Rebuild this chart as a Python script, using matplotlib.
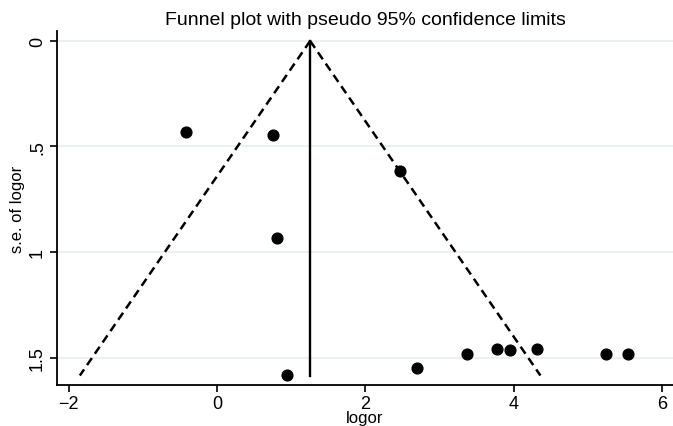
import numpy as np
import matplotlib
matplotlib.use("Agg")
import matplotlib.pyplot as plt

plt.rcParams['font.family'] = ['Liberation Sans', 'DejaVu Sans']

# study estimates
logor = [-0.42, 0.75, 0.805, 2.47, 0.94, 2.70, 3.37, 3.78, 3.95, 4.31, 5.25, 5.54]
se_logor = [0.43, 0.445, 0.934, 0.617, 1.583, 1.551, 1.483, 1.458, 1.464, 1.461, 1.485, 1.482]
pooled = 1.255
se_max = 1.585

xticks = [-2, 0, 2, 4, 6]
yticks = [0, 0.5, 1, 1.5]
ytick_labels = ['0', '.5', '1', '1.5']

fig = plt.figure(figsize=(6.73, 4.27), dpi=100)
ax = fig.add_axes([0.0847, 0.096, 0.9153, 0.829])

for y in yticks:
    ax.axhline(y, color='#e6eff0', lw=1.2, zorder=0)

# pseudo 95% limits
se_line = np.array([0, se_max])
ax.plot(pooled - 1.96 * se_line, se_line, color='black', lw=1.8, ls=(0, (3.4, 2.1)))
ax.plot(pooled + 1.96 * se_line, se_line, color='black', lw=1.8, ls=(0, (3.4, 2.1)))
ax.plot([pooled, pooled], [0, se_max], color='black', lw=1.7)

ax.scatter(logor, se_logor, s=60, color='black', zorder=3)

ax.set_xlim(-2.16, 6.15)
ax.set_ylim(1.63, -0.047)
ax.set_xticks(xticks)
ax.set_yticks(yticks)
ax.set_yticklabels(ytick_labels, rotation=90, va='center')
ax.tick_params(labelsize=13, length=5, width=1.2, colors='black')
ax.tick_params(axis='x', pad=2)
ax.tick_params(axis='y', pad=3)

ax.spines['top'].set_visible(False)
ax.spines['right'].set_visible(False)
ax.spines['left'].set_linewidth(1.3)
ax.spines['bottom'].set_linewidth(1.3)

ax.set_xlabel('logor', fontsize=12, labelpad=-1)
ax.set_ylabel('s.e. of logor', fontsize=12, labelpad=3)
fig.suptitle('Funnel plot with pseudo 95% confidence limits', x=0.543, y=0.972, fontsize=14)

fig.savefig('out.png', dpi=100)
